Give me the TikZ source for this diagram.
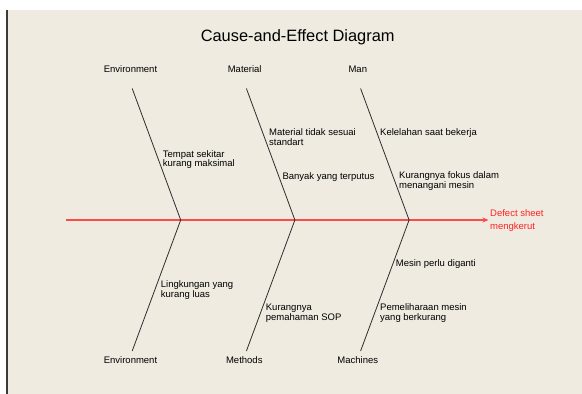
\documentclass[tikz,border=0pt]{standalone}
\usepackage{fontspec}
\setmainfont{Liberation Sans}
\usetikzlibrary{arrows.meta}
\definecolor{bgbeige}{HTML}{EFEBE1}
\definecolor{bonegray}{HTML}{2E2E2E}
\definecolor{spinered}{HTML}{FF4A4A}
\definecolor{effred}{HTML}{FF2222}
\definecolor{barblack}{HTML}{3A3A3A}
\tikzset{
  bone/.style={draw=bonegray, line width=0.8pt},
  spineline/.style={draw=spinered, line width=1.4pt, -{Stealth[length=6pt,width=5pt]}},
  catlabel/.style={anchor=base, inner sep=0pt, font=\fontsize{9.5}{10}\selectfont, text=black},
  causelabel/.style={anchor=base west, inner sep=0pt, align=left, font=\fontsize{9.5}{9.6}\selectfont, text=black},
  effectlabel/.style={anchor=base west, inner sep=0pt, align=left, font=\fontsize{9.5}{12.6}\selectfont, text=effred},
  titlelabel/.style={anchor=base, inner sep=0pt, font=\fontsize{16.4}{18}\selectfont}
}
\begin{document}
\begin{tikzpicture}[x=1pt, y=-1pt]
\useasboundingbox (0,0) rectangle (582,394);
% background
\fill[white] (0,0) rectangle (582,394);
\fill[bgbeige] (8,10) rectangle (582,394);
\fill[barblack] (6,10) rectangle (8,394);

% title
\node[titlelabel] (title) at (297.7,41.7) {Cause-and-Effect Diagram};

% coordinates of bones
\coordinate (j1) at (180.7,220);
\coordinate (j2) at (294.9,220);
\coordinate (j3) at (409.1,220);
\coordinate (t1) at (132.2,88.5);
\coordinate (t2) at (246.4,88.5);
\coordinate (t3) at (360.6,88.5);
\coordinate (b1) at (132.2,351);
\coordinate (b2) at (246.4,351);
\coordinate (b3) at (360.6,351);
\coordinate (s0) at (66,220);

% effect (base anchor = last line baseline)
\node[effectlabel] (eff) at (490,229.3) {Defect sheet\\mengkerut};
\coordinate (tip) at (488.5,220);

% spine
\draw[spineline] (s0) -- (tip);

% bones
\draw[bone] (t1) -- (j1) -- (b1);
\draw[bone] (t2) -- (j2) -- (b2);
\draw[bone] (t3) -- (j3) -- (b3);

% category labels
\node[catlabel] (envtop) at (130.5,72.3) {Environment};
\node[catlabel] (mat) at (244.7,72.3) {Material};
\node[catlabel] (man) at (357.8,72.3) {Man};
\node[catlabel] (envbot) at (130.5,363.3) {Environment};
\node[catlabel] (meth) at (244.3,363.3) {Methods};
\node[catlabel] (mach) at (357.8,363.3) {Machines};

% causes (base anchor = last line baseline)
\node[causelabel] (c1) at (162.7,166.6) {Tempat sekitar\\kurang maksimal};
\node[causelabel] (c2) at (269,145) {Material tidak sesuai\\standart};
\node[causelabel] (c3) at (282.3,179) {Banyak yang terputus};
\node[causelabel] (c4) at (380,135.3) {Kelelahan saat bekerja};
\node[causelabel] (c5) at (399,188.5) {Kurangnya fokus dalam\\menangani mesin};
\node[causelabel] (c6) at (160.7,297.3) {Lingkungan yang\\kurang luas};
\node[causelabel] (c7) at (265.7,320.2) {Kurangnya\\pemahaman SOP};
\node[causelabel] (c8) at (395.7,266.7) {Mesin perlu diganti};
\node[causelabel] (c9) at (380,320.2) {Pemeliharaan mesin\\yang berkurang};
\end{tikzpicture}
\end{document}
